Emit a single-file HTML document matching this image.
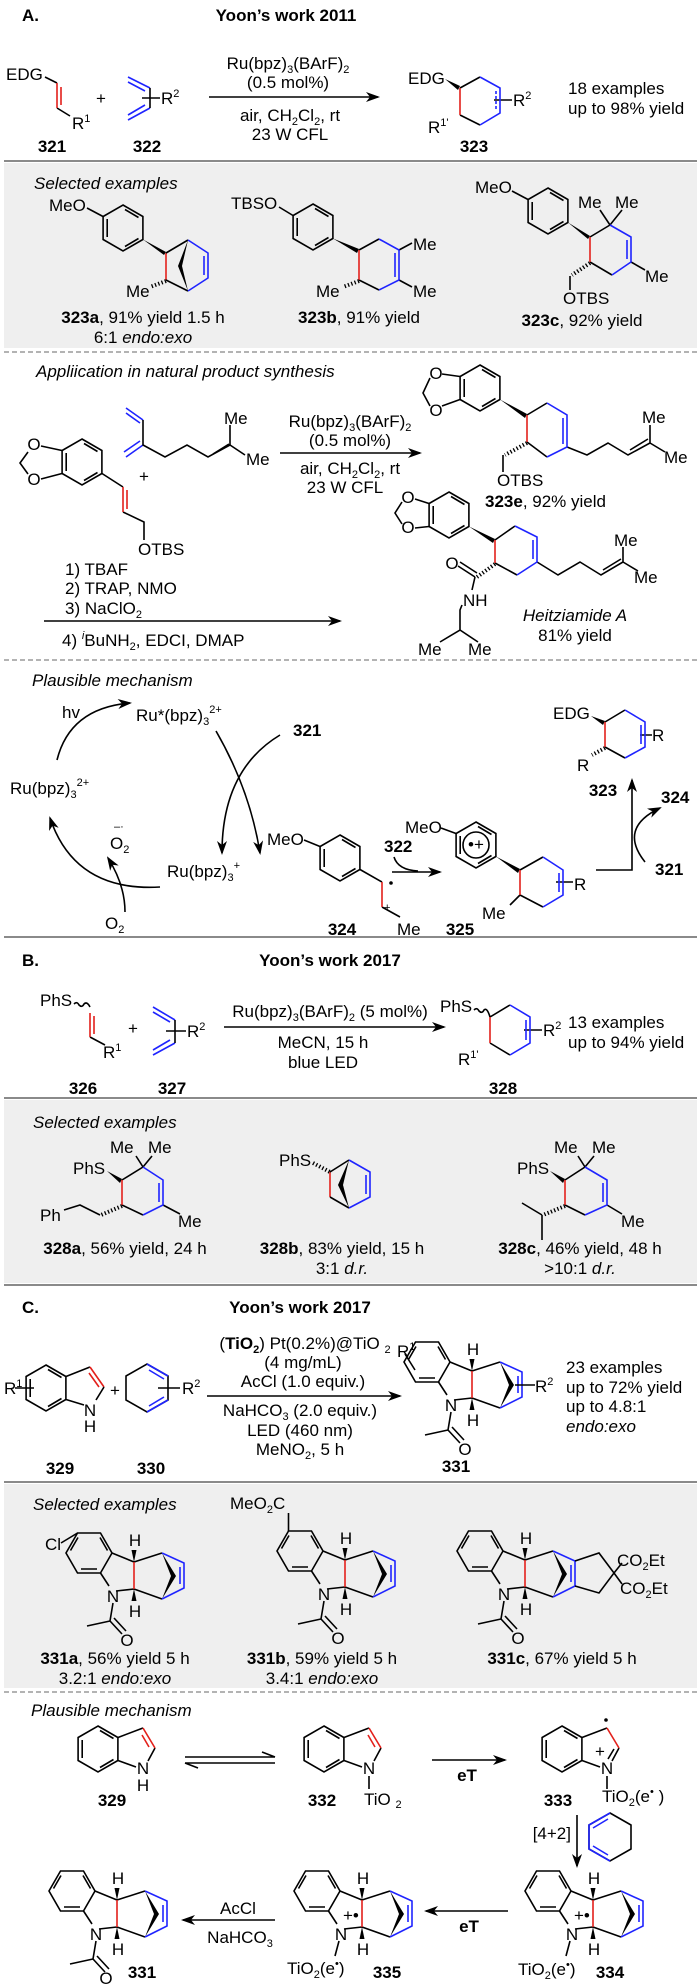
<!DOCTYPE html>
<html><head><meta charset="utf-8"><style>
body{margin:0;background:#fff}svg{display:block}
text{font-family:"Liberation Sans",sans-serif;font-size:17px;fill:#000}
.b{font-weight:bold}.i{font-style:italic}.m{text-anchor:middle}.e{text-anchor:end}.s{font-size:11px}
.k{stroke:#000;stroke-width:1.6;fill:none}.r{stroke:#e3201b;stroke-width:1.6;fill:none}.u{stroke:#1f24ff;stroke-width:1.6;fill:none}
.hs{stroke:#000;stroke-width:4;stroke-dasharray:1.3,2.2;fill:none}
</style></head><body>
<svg width="700" height="1987" viewBox="0 0 700 1987">
<defs>
<marker id="ah" markerWidth="14" markerHeight="10" refX="12" refY="5" orient="auto" markerUnits="userSpaceOnUse"><path d="M0,0 L14,5 L0,10 L4,5z" fill="#000"/></marker>
<g id="bz"><polygon class="k" points="0,-23 19.9,-11.5 19.9,11.5 0,23 -19.9,11.5 -19.9,-11.5"/><path class="k" d="M2,-18.5 L15.5,-10.5 M15.5,10.5 L2,18.5 M-15.8,9 L-15.8,-9"/></g>
<g id="bzf"><polygon class="k" points="23,0 11.5,20 -11.5,20 -23,0 -11.5,-20 11.5,-20"/><path class="k" d="M11,-15.5 L18.5,-2.5 M8,16 L-8,16 M-18.5,-2.5 L-11,-15.5"/></g>
<g id="core"><use href="#bzf"/><path class="k" d="M23,0 L45,9 M45,36 L27,38 M20,33 L11.5,20 M45,9 L73,0 M45,36 L73,46"/><path class="r" d="M45,9 L45,36"/><polygon points="45,9 42.5,-3 47.5,-3" fill="#000"/><polygon points="45,36 42.5,48 47.5,48" fill="#000"/><polygon points="73,0 87,23 73,46 82,23" fill="#000"/></g>
<g id="nb"><path class="u" d="M73,0 L95,10 L95,35 L73,46 M91,14 L91,31"/></g>
<g id="ac"><path class="k" d="M24,50 L21,68 L-2,73 M21,68 L33,81 M25,65 L37,78"/></g>
</defs>

<!-- ===== A ===== -->
<text x="22" y="21" class="b">A.</text>
<text x="286" y="21" class="b m">Yoon’s work  2011</text>
<text x="6" y="80">EDG</text>
<path class="k" d="M45,77 L57,83 M57,108 L70,116"/>
<path class="r" d="M57,83 L57,108 M61,87 L61,105"/>
<text x="72" y="129">R<tspan class="s" dy="-7">1</tspan></text>
<text x="101" y="104" class="m">+</text>
<path class="u" d="M128,77 L150,88 M128,82 L145,91 M150,108 L128,120 M145,105 L128,115"/>
<path class="k" d="M150,88 L150,108 M142,98 L160,98"/>
<text x="161" y="104">R<tspan class="s" dy="-7">2</tspan></text>
<text x="52" y="152" class="b m">321</text><text x="147" y="152" class="b m">322</text>
<text x="288" y="69" class="m">Ru(bpz)<tspan class="s" dy="4">3</tspan><tspan dy="-4">(BArF)</tspan><tspan class="s" dy="4">2</tspan></text>
<text x="288" y="88" class="m">(0.5 mol%)</text>
<path class="k" d="M209,97 L378,97" marker-end="url(#ah)"/>
<text x="290" y="121" class="m">air, CH<tspan class="s" dy="4">2</tspan><tspan dy="-4">Cl</tspan><tspan class="s" dy="4">2</tspan><tspan dy="-4">, rt</tspan></text>
<text x="290" y="140" class="m">23 W CFL</text>
<text x="408" y="84">EDG</text>
<polygon points="445,79 460,86 458,90" fill="#000"/>
<path class="k" d="M460,88 L480,77 M480,125 L460,115 M494,100 L512,100"/>
<path class="r" d="M460,88 L460,115"/>
<path class="u" d="M480,77 L500,88 L500,113 L480,125"/>
<path class="u" d="M496,91 L496,110" stroke-dasharray="3,2"/>
<text x="513" y="106">R<tspan class="s" dy="-7">2</tspan></text>
<text x="428" y="133">R<tspan class="s" dy="-7">1'</tspan></text>
<text x="474" y="152" class="b m">323</text>
<text x="568" y="94">18 examples</text><text x="568" y="114">up to 98% yield</text>
<line x1="4" y1="161" x2="697" y2="161" stroke="#8a8a8a" stroke-width="2"/>
<rect x="4" y="163" width="693" height="185" fill="#efefef"/>
<text x="34" y="189" class="i">Selected examples</text>
<text x="49" y="211">MeO</text>
<use href="#bz" x="123" y="228"/>
<path class="k" d="M87,208 L103,216.5"/>
<polygon points="143,239.5 166,252 164,255" fill="#000"/>
<path class="r" d="M166,253 L166,280"/>
<path class="k" d="M166,253 L188,240 M166,280 L188,291"/>
<path class="hs" d="M166,281 L150,287"/>
<text x="126" y="297">Me</text>
<path class="u" d="M188,240 L208,253 L208,278 L188,291 M204,256 L204,275"/>
<polygon points="188,240 178,266 188,291 182,266" fill="#000"/>
<text x="143" y="323" class="m"><tspan class="b">323a</tspan>, 91% yield 1.5 h</text>
<text x="143" y="343" class="m">6:1 <tspan class="i">endo:exo</tspan></text>
<text x="231" y="209">TBSO</text>
<use href="#bz" x="313" y="227"/>
<path class="k" d="M279,207 L293,215.5"/>
<polygon points="333,238.5 359,249 357,253" fill="#000"/>
<path class="k" d="M359,250 L379,239 M399,250 L412,243 M399,280 L412,287 M379,290 L359,280"/>
<path class="u" d="M379,239 L399,250 L399,280 L379,290 M395,253 L395,277"/>
<path class="r" d="M359,250 L359,280"/>
<path class="hs" d="M359,281 L343,287"/>
<text x="413" y="250">Me</text><text x="413" y="297">Me</text><text x="316" y="297">Me</text>
<text x="359" y="323" class="m"><tspan class="b">323b</tspan>, 91% yield</text>
<text x="475" y="193">MeO</text>
<use href="#bz" x="548" y="211"/>
<path class="k" d="M512,191 L528,199.5"/>
<polygon points="568,222.5 590,236 588,239" fill="#000"/>
<path class="k" d="M590,237 L610,225 M610,225 L600,210 M610,225 L622,210 M631,262 L645,270 M612,275 L590,262 M570,276 L570,290"/>
<path class="u" d="M610,225 L631,237 L631,262 L612,275 M627,240 L627,259"/>
<path class="r" d="M590,237 L590,262"/>
<path class="hs" d="M590,263 L572,275"/>
<text x="578" y="208">Me</text><text x="615" y="208">Me</text><text x="645" y="282">Me</text>
<text x="563" y="304">OTBS</text>
<text x="582" y="326" class="m"><tspan class="b">323c</tspan>, 92% yield</text>
<line x1="4" y1="352" x2="697" y2="352" stroke="#9a9a9a" stroke-width="1.5" stroke-dasharray="5,3"/>
<text x="36" y="377" class="i">Appliication in natural product synthesis</text>
<use href="#bz" x="82" y="462"/>
<text x="34" y="450" class="m">O</text><text x="34" y="485" class="m">O</text>
<path class="k" d="M62,450.5 L41,446 M62,473.5 L41,479 M28,452 L20,463 L28,474 M102,473.5 L123,487 M123,512 L144,522 L144,540"/>
<path class="r" d="M123,487 L123,512 M127,490 L127,509"/>
<text x="138" y="555">OTBS</text>
<path class="u" d="M126,408 L143,420 M126,413 L140,423 M143,445 L126,457 M140,441 L124,452"/>
<path class="k" d="M143,420 L143,445 L165,457 L187,445 L208,457 L230,445 L230,425 M230,445 L245,455 M213,454 L229,444"/>
<text x="224" y="424">Me</text><text x="246" y="465">Me</text>
<text x="144" y="482" class="m">+</text>
<text x="350" y="427" class="m">Ru(bpz)<tspan class="s" dy="4">3</tspan><tspan dy="-4">(BArF)</tspan><tspan class="s" dy="4">2</tspan></text>
<text x="350" y="446" class="m">(0.5 mol%)</text>
<path class="k" d="M280,453 L420,453" marker-end="url(#ah)"/>
<text x="350" y="474" class="m">air, CH<tspan class="s" dy="4">2</tspan><tspan dy="-4">Cl</tspan><tspan class="s" dy="4">2</tspan><tspan dy="-4">, rt</tspan></text>
<text x="345" y="493" class="m">23 W CFL</text>
<!-- 323e -->
<use href="#bz" x="480" y="388"/>
<text x="436" y="379" class="m">O</text><text x="436" y="416" class="m">O</text>
<path class="k" d="M460,376.5 L442,374 M460,399.5 L442,406 M430,378 L423,393 L430,406"/>
<polygon points="500,399.5 527,414 525,418" fill="#000"/>
<path class="k" d="M527,415 L547,403 M547,457 L527,442 M567,447 L587,455 L608,443 L628,455 L650,443 L650,425 M650,443 L665,452 M630,450 L648,439 M503,455 L503,472"/>
<path class="u" d="M547,403 L567,415 L567,447 L547,457 M563,418 L563,444"/>
<path class="r" d="M527,415 L527,442"/>
<path class="hs" d="M527,443 L505,455"/>
<text x="642" y="423">Me</text><text x="664" y="463">Me</text>
<text x="497" y="486">OTBS</text>
<text x="485" y="507"><tspan class="b">323e</tspan>, 92% yield</text>
<!-- Heitziamide -->
<use href="#bz" x="449" y="515"/>
<text x="408" y="503" class="m">O</text><text x="408" y="533" class="m">O</text>
<path class="k" d="M429,503.5 L415,499 M429,526.5 L415,528 M402,502 L395,513 L402,524"/>
<polygon points="469,526.5 495,539 493,543" fill="#000"/>
<path class="k" d="M495,540 L515,526 M517,575 L495,563 M537,562 L558,575 L580,562 L601,575 L623,562 L623,547 M623,562 L638,571 M603,570 L621,559 M475,577 L458,566 M477,573 L460,562 M475,577 L472,590 M462,605 L460,610 L460,630 L440,642 M460,630 L478,642"/>
<path class="u" d="M515,526 L537,537 L537,562 L517,575 M533,540 L533,559"/>
<path class="r" d="M495,540 L495,563"/>
<path class="hs" d="M495,564 L477,577"/>
<text x="452" y="569" class="m">O</text>
<text x="463" y="606">NH</text>
<text x="614" y="546">Me</text><text x="634" y="583">Me</text>
<text x="418" y="655">Me</text><text x="468" y="655">Me</text>
<text x="575" y="621" class="i m">Heitziamide  A</text>
<text x="575" y="641" class="m">81% yield</text>
<text x="65" y="575">1) TBAF</text>
<text x="65" y="594">2) TRAP,  NMO</text>
<text x="65" y="614">3) NaClO<tspan class="s" dy="4">2</tspan></text>
<path class="k" d="M44,621 L340,621" marker-end="url(#ah)"/>
<text x="62" y="646">4) <tspan class="s" dy="-7" font-style="italic">i</tspan><tspan dy="7">BuNH</tspan><tspan class="s" dy="4">2</tspan><tspan dy="-4">, EDCI, DMAP</tspan></text>
<line x1="4" y1="660" x2="697" y2="660" stroke="#9a9a9a" stroke-width="1.5" stroke-dasharray="5,3"/>
<text x="32" y="686" class="i">Plausible mechanism</text>
<text x="62" y="718">hv</text>
<text x="136" y="721">Ru*(bpz)<tspan class="s" dy="4">3</tspan><tspan class="s" dy="-12">2+</tspan></text>
<text x="293" y="736" class="b">321</text>
<text x="10" y="794">Ru(bpz)<tspan class="s" dy="4">3</tspan><tspan class="s" dy="-12">2+</tspan></text>
<text x="110" y="849">O<tspan class="s" dy="4">2</tspan></text><text x="114" y="830" class="s">–·</text>
<text x="167" y="877">Ru(bpz)<tspan class="s" dy="4">3</tspan><tspan class="s" dy="-12">+</tspan></text>
<text x="105" y="929">O<tspan class="s" dy="4">2</tspan></text>
<path class="k" d="M57,760 Q70,708 130,703" marker-end="url(#ah)"/>
<path class="k" d="M216,731 Q250,790 260,853" marker-end="url(#ah)"/>
<path class="k" d="M280,735 Q222,770 222,853" marker-end="url(#ah)"/>
<path class="k" d="M160,887 Q75,892 50,818" marker-end="url(#ah)"/>
<path class="k" d="M125,912 Q125,885 108,858" marker-end="url(#ah)"/>
<text x="267" y="845">MeO</text>
<use href="#bz" x="340" y="858"/>
<path class="k" d="M304,840 L320,846.5 M360,869.5 L382,882 M382,907 L400,917"/>
<path class="r" d="M382,882 L382,907"/>
<circle cx="391" cy="883" r="1.8" fill="#000"/>
<text x="384" y="911" class="s">+</text>
<text x="397" y="935">Me</text>
<text x="342" y="935" class="b m">324</text>
<text x="384" y="852" class="b">322</text>
<path class="k" d="M394,857 Q398,870 418,871"/>
<path class="k" d="M392,872 L440,872" marker-end="url(#ah)"/>
<text x="405" y="833">MeO</text>
<use href="#bz" x="476" y="845"/>
<circle cx="476" cy="845" r="13" class="k"/>
<text x="476" y="850" class="m" font-size="13">•+</text>
<path class="k" d="M441,828 L456,833.5"/>
<polygon points="496,856.5 520,869 518,873" fill="#000"/>
<path class="k" d="M520,870 L543,857 M543,907 L520,895 M520,895 L510,905 M556,882 L573,882"/>
<path class="u" d="M543,857 L563,870 L563,895 L543,907 M559,873 L559,892"/>
<path class="r" d="M520,870 L520,895"/>
<text x="574" y="890">R</text>
<text x="482" y="919">Me</text>
<text x="460" y="935" class="b m">325</text>
<path class="k" d="M596,870 L632,870 L632,780" marker-end="url(#ah)"/>
<path class="k" d="M645,862 Q618,828 660,808" marker-end="url(#ah)"/>
<text x="661" y="803" class="b">324</text>
<text x="655" y="875" class="b">321</text>
<text x="553" y="719">EDG</text>
<polygon points="591,716 605,721 603,725" fill="#000"/>
<path class="k" d="M605,722 L625,710 M625,758 L605,747 M640,735 L652,735"/>
<path class="u" d="M625,710 L645,722 L645,747 L625,758 M641,725 L641,744"/>
<path class="r" d="M605,722 L605,747"/>
<path class="hs" d="M605,748 L592,755"/>
<text x="652" y="741">R</text><text x="577" y="771">R</text>
<text x="603" y="796" class="b m">323</text>
<line x1="4" y1="937" x2="697" y2="937" stroke="#8a8a8a" stroke-width="2"/>

<!-- ===== B ===== -->
<text x="22" y="966" class="b">B.</text>
<text x="330" y="966" class="b m">Yoon’s work  2017</text>
<text x="40" y="1006">PhS</text>
<path class="k" d="M74,1004 q3,-3 5,1 q3,3 5,-1 q3,-3 6,3 M90,1037 L105,1045"/>
<path class="r" d="M90,1013 L90,1037 M94,1016 L94,1034"/>
<text x="103" y="1058">R<tspan class="s" dy="-7">1</tspan></text>
<text x="133" y="1034" class="m">+</text>
<path class="u" d="M153,1007 L175,1020 M153,1012 L170,1022 M175,1043 L153,1055 M170,1040 L153,1050"/>
<path class="k" d="M175,1020 L175,1043 M166,1031 L186,1031"/>
<text x="187" y="1037">R<tspan class="s" dy="-7">2</tspan></text>
<text x="330" y="1017" class="m">Ru(bpz)<tspan class="s" dy="4">3</tspan><tspan dy="-4">(BArF)</tspan><tspan class="s" dy="4">2</tspan><tspan dy="-4"> (5 mol%)</tspan></text>
<path class="k" d="M224,1027 L444,1027" marker-end="url(#ah)"/>
<text x="323" y="1048" class="m">MeCN, 15 h</text>
<text x="323" y="1068" class="m">blue LED</text>
<text x="440" y="1012">PhS</text>
<path class="k" d="M474,1010 q3,-3 5,1 q3,3 5,-1 q3,-3 6,7 M490,1017 L510,1005 M510,1055 L490,1043 M524,1030 L542,1030"/>
<path class="u" d="M510,1005 L530,1017 L530,1043 L510,1055 M526,1020 L526,1040"/>
<path class="r" d="M490,1017 L490,1043"/>
<text x="543" y="1036">R<tspan class="s" dy="-7">2</tspan></text>
<text x="458" y="1065">R<tspan class="s" dy="-7">1'</tspan></text>
<text x="568" y="1028">13 examples</text><text x="568" y="1048">up to 94% yield</text>
<text x="83" y="1094" class="b m">326</text><text x="172" y="1094" class="b m">327</text><text x="503" y="1094" class="b m">328</text>
<line x1="4" y1="1098" x2="697" y2="1098" stroke="#8a8a8a" stroke-width="2"/>
<rect x="4" y="1100" width="693" height="183" fill="#efefef"/>
<text x="33" y="1128" class="i">Selected examples</text>
<text x="110" y="1153">Me</text><text x="148" y="1153">Me</text>
<text x="73" y="1174">PhS</text>
<polygon points="107,1171 122,1179 120,1183" fill="#000"/>
<path class="k" d="M122,1180 L143,1167 L136,1156 M143,1167 L152,1156 M163,1205 L180,1214 M143,1215 L122,1205 M100,1215 L80,1205 L64,1210"/>
<path class="u" d="M143,1167 L163,1180 L163,1205 L143,1215 M159,1183 L159,1202"/>
<path class="r" d="M122,1180 L122,1205"/>
<path class="hs" d="M122,1206 L101,1215"/>
<text x="178" y="1227">Me</text><text x="40" y="1221">Ph</text>
<text x="125" y="1254" class="m"><tspan class="b">328a</tspan>, 56% yield, 24 h</text>
<text x="279" y="1166">PhS</text>
<path class="hs" d="M313,1163 L330,1172"/>
<path class="r" d="M330,1172 L330,1197"/>
<path class="k" d="M330,1172 L349,1160 M330,1197 L349,1208"/>
<path class="u" d="M349,1160 L370,1172 L370,1197 L349,1208 M366,1175 L366,1194"/>
<polygon points="349,1160 338,1185 349,1208 343,1185" fill="#000"/>
<text x="342" y="1254" class="m"><tspan class="b">328b</tspan>, 83% yield, 15 h</text>
<text x="342" y="1274" class="m">3:1 <tspan class="i">d.r.</tspan></text>
<text x="554" y="1153">Me</text><text x="592" y="1153">Me</text>
<text x="517" y="1174">PhS</text>
<polygon points="550,1171 565,1179 563,1183" fill="#000"/>
<path class="k" d="M565,1180 L585,1167 L578,1156 M585,1167 L594,1156 M607,1205 L622,1214 M585,1215 L565,1205 M542,1215 L522,1203 M542,1215 L542,1240"/>
<path class="u" d="M585,1167 L607,1180 L607,1205 L585,1215 M603,1183 L603,1202"/>
<path class="r" d="M565,1180 L565,1205"/>
<path class="hs" d="M565,1206 L543,1215"/>
<text x="621" y="1227">Me</text>
<text x="580" y="1254" class="m"><tspan class="b">328c</tspan>, 46% yield, 48 h</text>
<text x="580" y="1274" class="m">&gt;10:1 <tspan class="i">d.r.</tspan></text>
<line x1="4" y1="1285" x2="697" y2="1285" stroke="#8a8a8a" stroke-width="2"/>

<!-- ===== C ===== -->
<text x="22" y="1313" class="b">C.</text>
<text x="300" y="1313" class="b m">Yoon’s work  2017</text>
<use href="#bz" x="46" y="1388"/>
<path class="k" d="M66,1376.5 L90,1367 M66,1399.5 L84,1405 M15,1388 L34,1388"/>
<path class="r" d="M90,1367 L104,1387 M89,1373 L99,1387"/>
<path class="k" d="M104,1387 L96,1400"/>
<text x="90" y="1416" class="m">N</text><text x="90" y="1432" class="m">H</text>
<text x="4" y="1394">R<tspan class="s" dy="-7">1</tspan></text>
<text x="115" y="1396" class="m">+</text>
<polygon class="k" points="147,1364 168,1376 168,1400 147,1412 126,1400 126,1376"/>
<path class="u" d="M147,1364 L168,1376 M149,1370 L164,1379 M168,1400 L147,1412 M164,1397 L149,1406"/>
<path class="k" d="M158,1388 L180,1388"/>
<text x="182" y="1394">R<tspan class="s" dy="-7">2</tspan></text>
<text x="305" y="1349" class="m">(<tspan class="b">TiO</tspan><tspan class="s b" dy="4">2</tspan><tspan dy="-4">) Pt(0.2%)@TiO </tspan><tspan class="s" dy="4">2</tspan></text>
<text x="303" y="1368" class="m">(4 mg/mL)</text>
<text x="303" y="1387" class="m">AcCl (1.0 equiv.)</text>
<path class="k" d="M207,1396 L400,1396" marker-end="url(#ah)"/>
<text x="300" y="1416" class="m">NaHCO<tspan class="s" dy="4">3</tspan><tspan dy="-4"> (2.0 equiv.)</tspan></text>
<text x="300" y="1436" class="m">LED (460 nm)</text>
<text x="300" y="1455" class="m">MeNO<tspan class="s" dy="4">2</tspan><tspan dy="-4">, 5 h</tspan></text>
<g transform="translate(427,1362)">
<use href="#core"/><use href="#nb"/><use href="#ac"/>
<path class="k" d="M88,23 L108,23 M-22,-8 L-12,8"/>
<text x="24" y="49" class="m">N</text><text x="46" y="-7" class="m">H</text><text x="46" y="64" class="m">H</text><text x="38" y="93" class="m">O</text>
<text x="108" y="30">R<tspan class="s" dy="-7">2</tspan></text>
<text x="-30" y="-5">R<tspan class="s" dy="-7">1</tspan></text>
</g>
<text x="566" y="1373">23 examples</text><text x="566" y="1393">up to 72% yield</text>
<text x="566" y="1412">up to 4.8:1</text><text x="566" y="1432" class="i">endo:exo</text>
<text x="60" y="1474" class="b m">329</text><text x="151" y="1474" class="b m">330</text><text x="456" y="1472" class="b m">331</text>
<line x1="4" y1="1482" x2="697" y2="1482" stroke="#8a8a8a" stroke-width="2"/>
<rect x="4" y="1484" width="693" height="204" fill="#efefef"/>
<text x="33" y="1510" class="i">Selected examples</text>
<g transform="translate(89,1553)">
<use href="#core"/><use href="#nb"/><use href="#ac"/>
<path class="k" d="M-11.5,-20 L-28,-10"/>
<text x="24" y="49" class="m">N</text><text x="46" y="-7" class="m">H</text><text x="46" y="64" class="m">H</text><text x="38" y="93" class="m">O</text>
<text x="-44" y="-3">Cl</text>
</g>
<text x="115" y="1664" class="m"><tspan class="b">331a</tspan>, 56% yield 5 h</text>
<text x="115" y="1684" class="m">3.2:1 <tspan class="i">endo:exo</tspan></text>
<g transform="translate(300,1551)">
<use href="#core"/><use href="#nb"/><use href="#ac"/>
<path class="k" d="M-11.5,-20 L-11.5,-38"/>
<text x="24" y="49" class="m">N</text><text x="46" y="-7" class="m">H</text><text x="46" y="64" class="m">H</text><text x="38" y="93" class="m">O</text>
<text x="-70" y="-42">MeO<tspan class="s" dy="4">2</tspan><tspan dy="-4">C</tspan></text>
</g>
<text x="322" y="1664" class="m"><tspan class="b">331b</tspan>, 59% yield 5 h</text>
<text x="322" y="1684" class="m">3.4:1 <tspan class="i">endo:exo</tspan></text>
<g transform="translate(480,1551)">
<use href="#core"/><use href="#nb"/><use href="#ac"/>
<path class="k" d="M95,10 L119,2 L134,22 L119,42 L95,35 M134,22 L142,12 M134,22 L142,33"/>
<text x="24" y="49" class="m">N</text><text x="46" y="-7" class="m">H</text><text x="46" y="64" class="m">H</text><text x="38" y="93" class="m">O</text>
<text x="137" y="15">CO<tspan class="s" dy="4">2</tspan><tspan dy="-4">Et</tspan></text>
<text x="140" y="43">CO<tspan class="s" dy="4">2</tspan><tspan dy="-4">Et</tspan></text>
</g>
<text x="562" y="1664" class="m"><tspan class="b">331c</tspan>, 67% yield 5 h</text>
<line x1="4" y1="1692" x2="697" y2="1692" stroke="#9a9a9a" stroke-width="1.5" stroke-dasharray="5,3"/>
<text x="31" y="1716" class="i">Plausible mechanism</text>
<g transform="translate(98,1749)">
<use href="#bz"/>
<path class="k" d="M20,-11.5 L45,-21 M57,-1 L50,12 M20,11.5 L38,18"/>
<path class="r" d="M45,-21 L57,-1 M44,-14 L51,-2"/>
<text x="45" y="25" class="m">N</text><text x="45" y="42" class="m">H</text>
</g>
<text x="112" y="1806" class="b m">329</text>
<path class="k" d="M185,1757 L275,1757 M275,1757 L262,1752 M275,1763 L185,1763 M185,1763 L198,1768"/>
<g transform="translate(324,1749)">
<use href="#bz"/>
<path class="k" d="M20,-11.5 L45,-21 M57,-1 L50,12 M20,11.5 L38,18 M45,27 L45,40"/>
<path class="r" d="M45,-21 L57,-1 M44,-14 L51,-2"/>
<text x="45" y="25" class="m">N</text>
<text x="40" y="56">TiO <tspan class="s" dy="3">2</tspan></text>
</g>
<text x="322" y="1806" class="b m">332</text>
<path class="k" d="M432,1760 L505,1760" marker-end="url(#ah)"/>
<text x="467" y="1781" class="b m">eT</text>
<g transform="translate(562,1749)">
<use href="#bz"/>
<path class="k" d="M20,-11.5 L45,-21 M57,-1 L50,12 M20,11.5 L38,18 M45,27 L45,40 M52,0 L46,10"/>
<path class="r" d="M45,-21 L57,-1"/>
<circle cx="44" cy="-29" r="1.8" fill="#000"/>
<text x="33" y="8" font-size="13">+</text>
<text x="45" y="25" class="m">N</text>
<text x="40" y="53">TiO<tspan class="s" dy="4">2</tspan><tspan dy="-4">(e</tspan><tspan class="s" dy="-7">•</tspan><tspan dy="7"> )</tspan></text>
</g>
<text x="558" y="1806" class="b m">333</text>
<path class="k" d="M577,1815 L577,1866" marker-end="url(#ah)"/>
<text x="571" y="1839" class="e">[4+2]</text>
<polygon class="k" points="610,1813 631,1825 631,1849 610,1861 589,1849 589,1825"/>
<path class="u" d="M610,1813 L589,1825 L589,1849 L610,1861 M608,1819 L593,1828 M593,1846 L608,1855"/>
<g transform="translate(72,1891)">
<use href="#core"/><use href="#nb"/><use href="#ac"/>
<text x="24" y="49" class="m">N</text><text x="46" y="-7" class="m">H</text><text x="46" y="64" class="m">H</text><text x="34" y="93" class="m">O</text>
</g>
<text x="142" y="1978" class="b m">331</text>
<path class="k" d="M275,1920 L183,1920" marker-end="url(#ah)"/>
<text x="238" y="1914" class="m">AcCl</text>
<text x="240" y="1943" class="m">NaHCO<tspan class="s" dy="4">3</tspan></text>
<g transform="translate(317,1891)">
<use href="#core"/><use href="#nb"/>
<path class="k" d="M22,50 L18,65"/>
<text x="24" y="49" class="m">N</text><text x="46" y="-7" class="m">H</text><text x="46" y="64" class="m">H</text>
<text x="26" y="30" font-size="14">+•</text>
<text x="-30" y="83">TiO<tspan class="s" dy="4">2</tspan><tspan dy="-4">(e</tspan><tspan class="s" dy="-7">•</tspan><tspan dy="7">)</tspan></text>
</g>
<text x="387" y="1978" class="b m">335</text>
<path class="k" d="M508,1911 L426,1911" marker-end="url(#ah)"/>
<text x="469" y="1932" class="b m">eT</text>
<g transform="translate(548,1891)">
<use href="#core"/><use href="#nb"/>
<path class="k" d="M22,50 L18,65"/>
<text x="24" y="49" class="m">N</text><text x="46" y="-7" class="m">H</text><text x="46" y="64" class="m">H</text>
<text x="26" y="30" font-size="14">+•</text>
<text x="-30" y="84">TiO<tspan class="s" dy="4">2</tspan><tspan dy="-4">(e</tspan><tspan class="s" dy="-7">•</tspan><tspan dy="7">)</tspan></text>
</g>
<text x="610" y="1978" class="b m">334</text>
</svg>
</body></html>
